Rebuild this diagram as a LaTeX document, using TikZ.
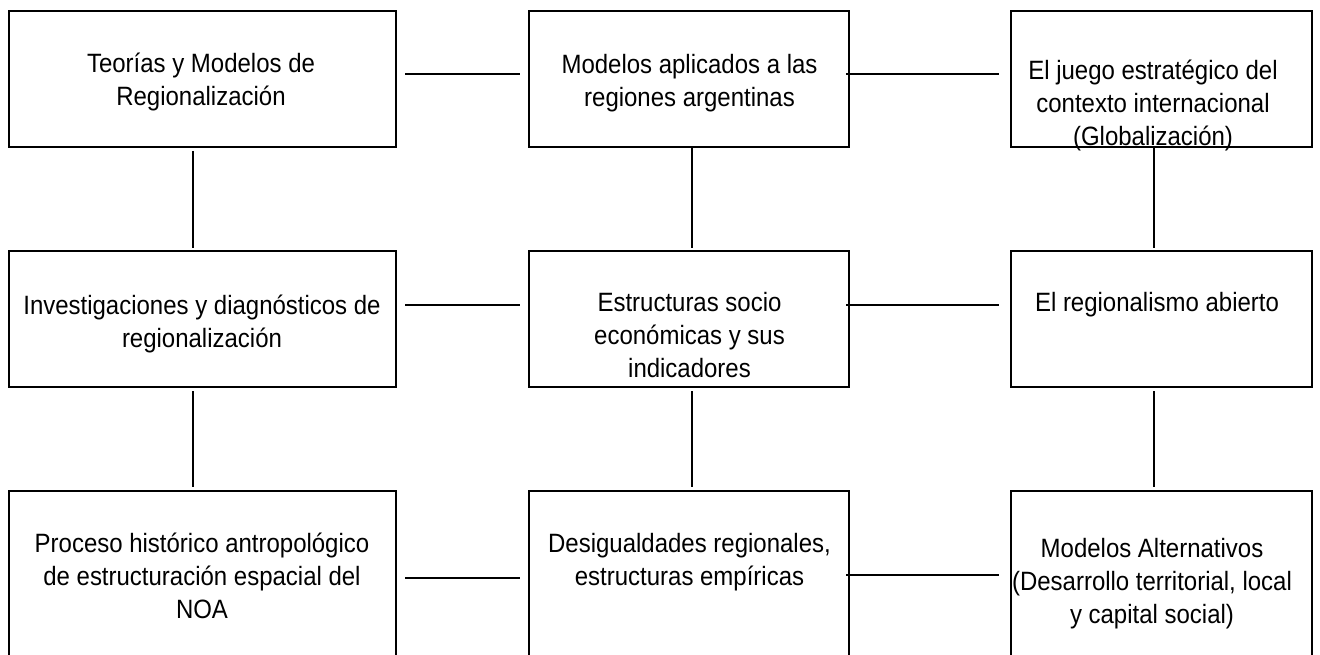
\documentclass[tikz,border=0pt]{standalone}
\usepackage{fontspec}
\setmainfont{Liberation Sans}[FakeStretch=0.905]
\begin{document}
\begin{tikzpicture}[x=1pt,y=-1pt,
  box/.style={draw, line width=1.9pt, inner sep=0pt, outer sep=0pt},
  lbl/.style={anchor=north, inner sep=0pt, outer sep=0pt, align=center, font=\fontsize{26.5}{33}\selectfont},
  link/.style={line width=1.2pt}]
\useasboundingbox (0,0) rectangle (1320,655);
\clip (0,0) rectangle (1320,655);
% boxes
\node[box, minimum width=387pt, minimum height=136pt] (b1) at (202.5,79) {};
\node[box, minimum width=320pt, minimum height=136pt] (b2) at (689,79) {};
\node[box, minimum width=301pt, minimum height=136pt] (b3) at (1161.5,79) {};
\node[box, minimum width=387pt, minimum height=136pt] (b4) at (202.5,319) {};
\node[box, minimum width=320pt, minimum height=136pt] (b5) at (689,319) {};
\node[box, minimum width=301pt, minimum height=136pt] (b6) at (1161.5,319) {};
\node[box, minimum width=387pt, minimum height=179pt] (b7) at (202.5,580.5) {};
\node[box, minimum width=320pt, minimum height=179pt] (b8) at (689,580.5) {};
\node[box, minimum width=301pt, minimum height=179pt] (b9) at (1161.5,580.5) {};
% labels
\node[lbl] (t1) at (201,49.9) {\strut Teorías y Modelos de\\Regionalización};
\node[lbl] (t2) at (689.5,50.9) {\strut Modelos aplicados a las\\regiones argentinas};
\node[lbl] (t3) at (1153,56.9) {\strut El juego estratégico del\\contexto internacional\\(Globalización)};
\node[lbl] (t4) at (202,290.9) {\strut Investigaciones y diagnósticos de\\regionalización};
\node[lbl] (t5) at (689.5,287.9) {\strut Estructuras socio\\económicas y sus\\indicadores};
\node[lbl] (t6) at (1157,288.4) {\strut El regionalismo abierto};
\node[lbl] (t7) at (202,528.9) {\strut Proceso histórico antropológico\\de estructuración espacial del\\NOA};
\node[lbl] (t8) at (689.5,528.9) {\strut Desigualdades regionales,\\estructuras empíricas};
\node[lbl] (t9) at (1152,533.9) {\strut Modelos Alternativos\\(Desarrollo territorial, local\\y capital social)};
% horizontal connectors
\draw[link, shorten <=9pt, shorten >=9pt] ([yshift=-63pt]b1.north east) -- ([yshift=-63pt]b2.north west);
\draw[link, shorten <=-3pt, shorten >=12pt] ([yshift=-63pt]b2.north east) -- ([yshift=-63pt]b3.north west);
\draw[link, shorten <=9pt, shorten >=9pt] ([yshift=-54pt]b4.north east) -- ([yshift=-54pt]b5.north west);
\draw[link, shorten <=-3pt, shorten >=12pt] ([yshift=-54pt]b5.north east) -- ([yshift=-54pt]b6.north west);
\draw[link, shorten <=9pt, shorten >=9pt] ([yshift=-87pt]b7.north east) -- ([yshift=-87pt]b8.north west);
\draw[link, shorten <=-3pt, shorten >=12pt] ([yshift=-84pt]b8.north east) -- ([yshift=-84pt]b9.north west);
% vertical connectors
\draw[link, shorten <=4pt, shorten >=3pt] ([xshift=-9.5pt]b1.south) -- ([xshift=-9.5pt]b4.north);
\draw[link, shorten >=3pt] ([xshift=3pt]b2.south) -- ([xshift=3pt]b5.north);
\draw[link, shorten <=1pt, shorten >=3pt] ([xshift=-7.5pt]b3.south) -- ([xshift=-7.5pt]b6.north);
\draw[link, shorten <=4pt, shorten >=4pt] ([xshift=-9.5pt]b4.south) -- ([xshift=-9.5pt]b7.north);
\draw[link, shorten <=4pt, shorten >=4pt] ([xshift=3pt]b5.south) -- ([xshift=3pt]b8.north);
\draw[link, shorten <=4pt, shorten >=4pt] ([xshift=-7.5pt]b6.south) -- ([xshift=-7.5pt]b9.north);
\end{tikzpicture}
\end{document}
